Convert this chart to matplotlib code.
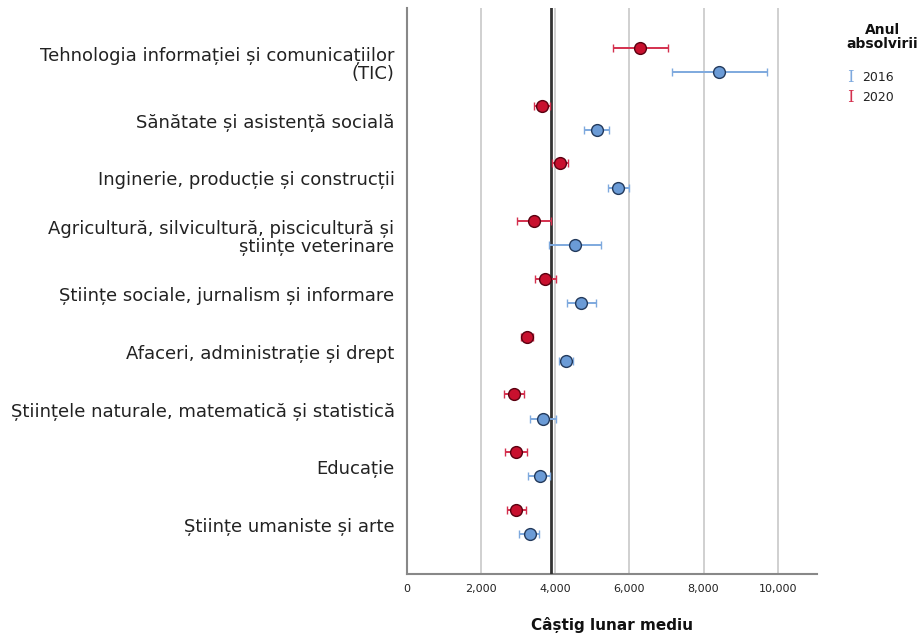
import matplotlib.pyplot as plt
import matplotlib.transforms as mtransforms
import numpy as np

categories = [
    "Tehnologia informației și comunicațiilor\n(TIC)",
    "Sănătate și asistență socială",
    "Inginerie, producție și construcții",
    "Agricultură, silvicultură, piscicultură și\nștiințe veterinare",
    "Științe sociale, jurnalism și informare",
    "Afaceri, administrație și drept",
    "Științele naturale, matematică și statistică",
    "Educație",
    "Științe umaniste și arte",
]

mean_2020 = [6290, 3630, 4130, 3435, 3730, 3230, 2885, 2940, 2950]
low_2020 = [5545, 3415, 3920, 2965, 3445, 3075, 2630, 2650, 2705]
high_2020 = [7040, 3850, 4355, 3895, 4030, 3400, 3155, 3225, 3220]

mean_2016 = [8430, 5120, 5705, 4535, 4705, 4290, 3680, 3590, 3310]
low_2016 = [7155, 4785, 5425, 3830, 4315, 4095, 3310, 3275, 3030]
high_2016 = [9720, 5445, 5985, 5245, 5100, 4490, 4030, 3865, 3570]

overall_mean = 3880
years = ["2016", "2020"]

RED = "#c8102e"
RED_BAR = "#d4304e"
BLUE = "#6b9bd6"
BLUE_BAR = "#7ea9de"

fig = plt.figure(figsize=(9.2, 6.43), dpi=100)
ax = fig.add_axes([0.4424, 0.1073, 0.888 - 0.4424, 0.9876 - 0.1073])

ypos = np.arange(len(categories))
off = 0.21

m20 = np.array(mean_2020)
m16 = np.array(mean_2016)
ax.errorbar(m20, ypos - off,
            xerr=[m20 - np.array(low_2020), np.array(high_2020) - m20],
            fmt="o", color=RED, ecolor=RED_BAR, elinewidth=1.4, capsize=3,
            capthick=1.4, ms=8.5, mec="#5a0010", mew=1.0, zorder=4)
ax.errorbar(m16, ypos + off,
            xerr=[m16 - np.array(low_2016), np.array(high_2016) - m16],
            fmt="o", color=BLUE, ecolor=BLUE_BAR, elinewidth=1.4, capsize=3,
            capthick=1.4, ms=8.5, mec="#233a5c", mew=1.0, zorder=4)

ax.axvline(overall_mean, color="#333333", lw=2.0, zorder=3)

ax.set_ylim(len(categories) - 0.1, -0.9)
ax.set_xlim(0, 11060)
ax.set_yticks(ypos)
ax.set_yticklabels(categories, fontsize=13, color="#222222",
                   linespacing=1.0, ha="right")
ax.tick_params(axis="y", length=0, pad=9)
shift = mtransforms.ScaledTranslation(0, -3 / 100, fig.dpi_scale_trans)
for lab in ax.get_yticklabels():
    lab.set_transform(lab.get_transform() + shift)

ax.set_xticks([0, 2000, 4000, 6000, 8000, 10000])
ax.set_xticklabels(["0", "2,000", "4,000", "6,000", "8,000", "10,000"],
                   fontsize=8, color="#222222")
ax.tick_params(axis="x", length=0, pad=7)
ax.grid(axis="x", color="#c8c8c8", lw=1.2, zorder=0)
ax.set_axisbelow(True)

for s in ["top", "right"]:
    ax.spines[s].set_visible(False)
for s in ["left", "bottom"]:
    ax.spines[s].set_color("#888888")
    ax.spines[s].set_linewidth(1.5)

ax.set_xlabel("Câștig lunar mediu", fontsize=11, fontweight="bold",
              labelpad=17, color="#111111")

# legend
fig.text(0.959, 0.943, "Anul\nabsolvirii", ha="center", va="center",
         fontsize=10, fontweight="bold", color="#111111", linespacing=1.0)
fig.text(0.921, 0.879, "I", color=BLUE_BAR, fontsize=12, family="DejaVu Serif",
         ha="left", va="center")
fig.text(0.937, 0.879, years[0], color="#222222", fontsize=9, ha="left", va="center")
fig.text(0.921, 0.849, "I", color=RED_BAR, fontsize=12, family="DejaVu Serif",
         ha="left", va="center")
fig.text(0.937, 0.849, years[1], color="#222222", fontsize=9, ha="left", va="center")

fig.savefig("out.png", dpi=100)
